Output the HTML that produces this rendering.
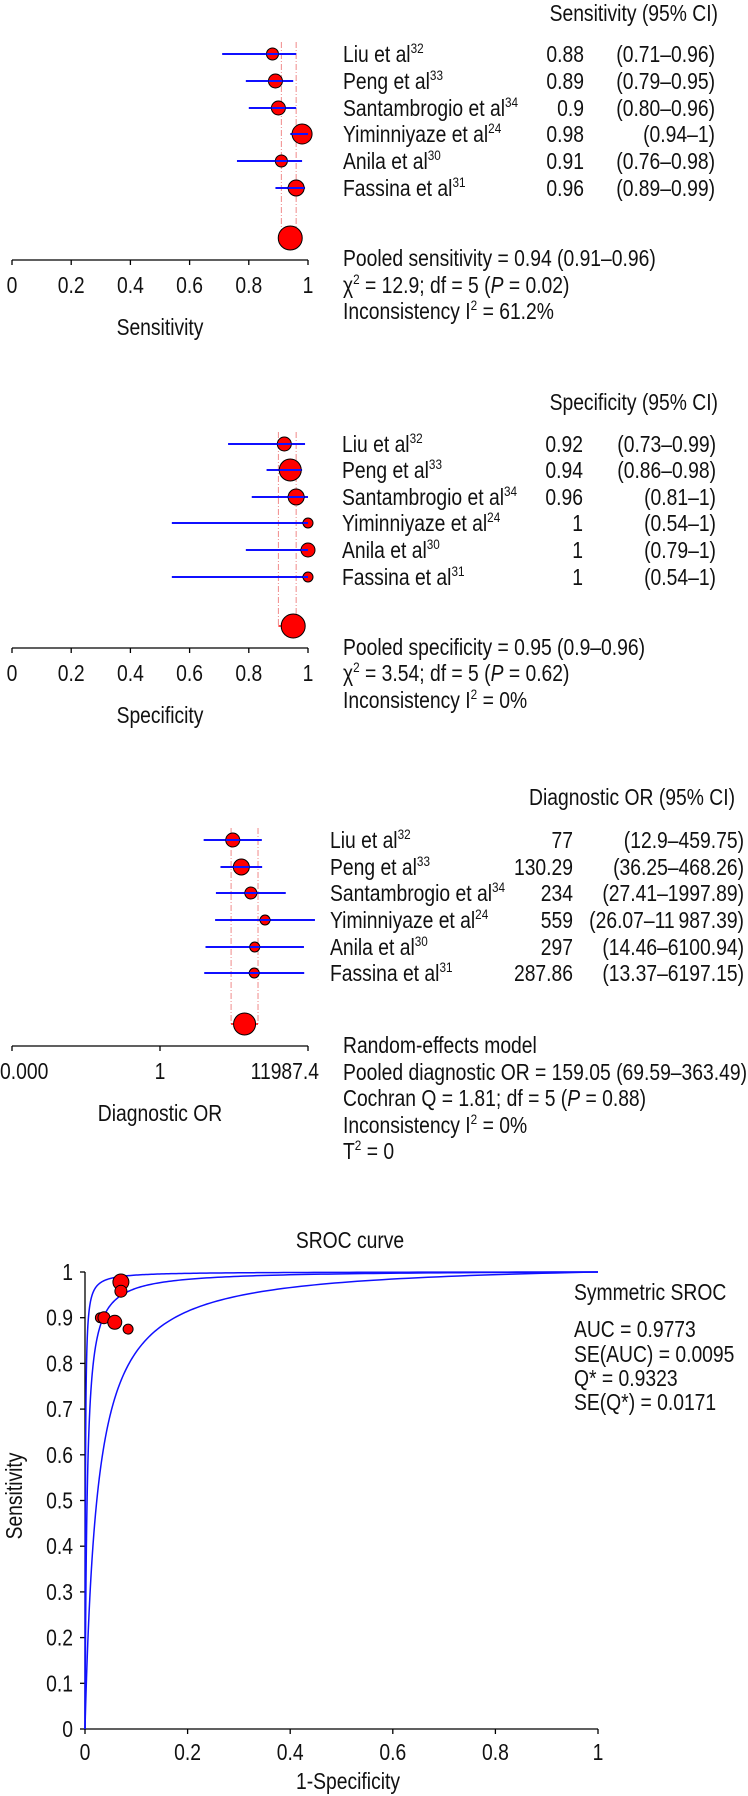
<!DOCTYPE html>
<html><head><meta charset="utf-8">
<style>
html,body{margin:0;padding:0;background:#fff;}
svg{display:block;}
text{font-family:"Liberation Sans Narrow","Liberation Sans",sans-serif;font-size:23px;fill:#111;}
</style></head>
<body>
<svg id="chart" width="748" height="1796" viewBox="0 0 748 1796" xmlns="http://www.w3.org/2000/svg"></svg>
<script>
// ---------- data ----------
const studies = ["Liu et al", "Peng et al", "Santambrogio et al", "Yiminniyaze et al", "Anila et al", "Fassina et al"];
const refs = ["32", "33", "34", "24", "30", "31"];

const sensValues = [0.88, 0.89, 0.9, 0.98, 0.91, 0.96];
const sensLow = [0.71, 0.79, 0.80, 0.94, 0.76, 0.89];
const sensHigh = [0.96, 0.95, 0.96, 1, 0.98, 0.99];
const sensValueLabels = ["0.88", "0.89", "0.9", "0.98", "0.91", "0.96"];
const sensCILabels = ["(0.71\u20130.96)", "(0.79\u20130.95)", "(0.80\u20130.96)", "(0.94\u20131)", "(0.76\u20130.98)", "(0.89\u20130.99)"];
const sensWeights = [6, 7, 7, 10, 6, 8];
const sensPooled = [0.94, 0.91, 0.96];

const specValues = [0.92, 0.94, 0.96, 1, 1, 1];
const specLow = [0.73, 0.86, 0.81, 0.54, 0.79, 0.54];
const specHigh = [0.99, 0.98, 1, 1, 1, 1];
const specValueLabels = ["0.92", "0.94", "0.96", "1", "1", "1"];
const specCILabels = ["(0.73\u20130.99)", "(0.86\u20130.98)", "(0.81\u20131)", "(0.54\u20131)", "(0.79\u20131)", "(0.54\u20131)"];
const specWeights = [7, 11, 8, 5, 7, 5];
const specPooled = [0.95, 0.9, 0.96];

const orValues = [77, 130.29, 234, 559, 297, 287.86];
const orLow = [12.9, 36.25, 27.41, 26.07, 14.46, 13.37];
const orHigh = [459.75, 468.26, 1997.89, 11987.39, 6100.94, 6197.15];
const orValueLabels = ["77", "130.29", "234", "559", "297", "287.86"];
const orCILabels = ["(12.9\u2013459.75)", "(36.25\u2013468.26)", "(27.41\u20131997.89)", "(26.07\u201311\u2009987.39)", "(14.46\u20136100.94)", "(13.37\u20136197.15)"];
const orWeights = [7, 8, 6, 5, 5, 5];
const orPooled = [159.05, 69.59, 363.49];
const orTickValues = [1/11987.4, 1, 11987.4];
const orTickLabels = ["0.000", "1", "11987.4"];

const linTicks = [0, 0.2, 0.4, 0.6, 0.8, 1];
const linTickLabels = ["0", "0.2", "0.4", "0.6", "0.8", "1"];

const srocFpr = [0.07, 0.07, 0.03, 0.037, 0.058, 0.084];
const srocSens = [0.978, 0.958, 0.90, 0.90, 0.89, 0.875];
const srocSizes = [8, 6, 5, 6, 7, 5];
const srocD = [7.2, 5.5, 3.75];
const srocYTicks = [0, 0.1, 0.2, 0.3, 0.4, 0.5, 0.6, 0.7, 0.8, 0.9, 1];
const srocXTicks = [0, 0.2, 0.4, 0.6, 0.8, 1];

// ---------- helpers ----------
const svg = document.getElementById('chart');
const NS = 'http://www.w3.org/2000/svg';
const SX = 0.84;
function mk(tag, attrs, parent) {
  const e = document.createElementNS(NS, tag);
  for (const k in attrs) e.setAttribute(k, attrs[k]);
  (parent || svg).appendChild(e);
  return e;
}
function txt(str, x, cy, anchor, parent) {
  const t = mk('text', {x: 0, y: 0, 'text-anchor': anchor || 'start', transform: 'translate(' + x + ',' + (cy + 8) + ') scale(' + SX + ',1)'}, parent);
  t.textContent = str;
  return t;
}
function sup(t, s) {
  const ts = document.createElementNS(NS, 'tspan');
  ts.setAttribute('dy', '-9');
  ts.setAttribute('font-size', '14');
  ts.textContent = s;
  t.appendChild(ts);
}

// ---------- forest plot ----------
function forest(cfg) {
  const g = mk('g', {});
  
  
  const xs = cfg.xs;
  const h = txt(cfg.header, cfg.headerX, cfg.headerY, 'end', g);
  
  
  [cfg.pooled[1], cfg.pooled[2]].forEach(v => {
    const l = mk('line', {x1: xs(v), x2: xs(v), y1: cfg.rowY[0] - 12, y2: cfg.pooledY, stroke: '#f08a8a', 'stroke-width': 1, 'stroke-dasharray': '6,2,1,2'}, g);
    
    
  });
  mk('line', {x1: xs(cfg.pooled[1]), x2: xs(cfg.pooled[2]), y1: cfg.pooledY, y2: cfg.pooledY, stroke: '#ff0000', 'stroke-width': 1.5}, g);
  for (let i = 0; i < studies.length; i++) {
    const y = cfg.rowY[i];
    const ci = mk('line', {x1: xs(cfg.low[i]), x2: xs(cfg.high[i]), y1: y, y2: y, stroke: '#1010ff', 'stroke-width': 2}, g);
    
    
    const c = mk('circle', {cx: xs(cfg.vals[i]), cy: y, r: cfg.weights[i], fill: '#ff0000', stroke: '#000', 'stroke-width': 1}, g);
    
    
    mk('line', {x1: xs(cfg.vals[i]) - cfg.weights[i], x2: Math.min(xs(cfg.high[i]), xs(cfg.vals[i]) + cfg.weights[i]), y1: y, y2: y, stroke: '#1010ff', 'stroke-width': 2}, g);
    const n = txt(studies[i], cfg.nameX, y, 'start', g);
    sup(n, refs[i]);
    
    
    const v = txt(cfg.valLabels[i], cfg.valX, y, 'end', g);
    
    
    const cl = txt(cfg.ciLabels[i], cfg.ciX, y, 'end', g);
    
    
  }
  const pc = mk('circle', {cx: xs(cfg.pooled[0]), cy: cfg.pooledY, r: cfg.pooledR, fill: '#ff0000', stroke: '#000', 'stroke-width': 1}, g);
  
  
  const last = cfg.ticks.length - 1;
  const ax = mk('line', {x1: 12, x2: 308, y1: cfg.axisY, y2: cfg.axisY, stroke: '#000', 'stroke-width': 1.3}, g);
  
  
  cfg.ticks.forEach((tv, k) => {
    let tx = xs(tv);
    if (cfg.edgeLabels && k === 0) tx = 12;
    if (cfg.edgeLabels && k === last) tx = 308;
    if (cfg.edgeLabels && k !== 0 && k !== last) tx = 160;
    mk('line', {x1: tx, x2: tx, y1: cfg.axisY, y2: cfg.axisY + 5, stroke: '#000', 'stroke-width': 1.3}, g);
    let lx = tx, anc = 'middle';
    if (cfg.edgeLabels && k === 0) { lx = 0; anc = 'start'; }
    if (cfg.edgeLabels && k === last) { lx = 319; anc = 'end'; }
    const tl = txt(cfg.tickLabels[k], lx, cfg.axisY + 25, anc, g);
    
    
  });
  const at = txt(cfg.axisTitle, 160, cfg.axisY + 67, 'middle', g);
  
  
  cfg.stats.forEach((s, k) => {
    const t = mk('text', {x: 0, y: 0, transform: 'translate(343,' + (cfg.statsY[k] + 8) + ') scale(' + SX + ',1)'}, g);
    t.innerHTML = s;
    
    
  });
}

const linX = v => 12 + 296 * v;
const logX = v => 162 + 37.5 * Math.log10(v);
const S2 = '<tspan dy="-9" font-size="14">2</tspan><tspan dy="9">';

forest({name: 'sensitivity-forest-plot', xs: linX, header: 'Sensitivity (95% CI)', headerX: 718, headerY: 13,
  rowY: [54, 81, 108, 134, 161, 188], pooledY: 238, pooledR: 12, axisY: 260,
  vals: sensValues, low: sensLow, high: sensHigh, weights: sensWeights, pooled: sensPooled,
  valLabels: sensValueLabels, ciLabels: sensCILabels, nameX: 343, valX: 584, ciX: 715,
  ticks: linTicks, tickLabels: linTickLabels, axisTitle: 'Sensitivity',
  stats: ['Pooled sensitivity = 0.94 (0.91\u20130.96)', '\u03c7' + S2 + ' = 12.9; df = 5 (</tspan><tspan font-style="italic">P</tspan> = 0.02)', 'Inconsistency I' + S2 + ' = 61.2%</tspan>'],
  statsY: [258, 285, 311]});

forest({name: 'specificity-forest-plot', xs: linX, header: 'Specificity (95% CI)', headerX: 718, headerY: 402,
  rowY: [444, 470, 497, 523, 550, 577], pooledY: 626, pooledR: 12, axisY: 648,
  vals: specValues, low: specLow, high: specHigh, weights: specWeights, pooled: specPooled,
  valLabels: specValueLabels, ciLabels: specCILabels, nameX: 342, valX: 583, ciX: 716,
  ticks: linTicks, tickLabels: linTickLabels, axisTitle: 'Specificity',
  stats: ['Pooled specificity = 0.95 (0.9\u20130.96)', '\u03c7' + S2 + ' = 3.54; df = 5 (</tspan><tspan font-style="italic">P</tspan> = 0.62)', 'Inconsistency I' + S2 + ' = 0%</tspan>'],
  statsY: [647, 673, 700]});

forest({name: 'diagnostic-or-forest-plot', xs: logX, header: 'Diagnostic OR (95% CI)', headerX: 735, headerY: 797,
  rowY: [840, 867, 893, 920, 947, 973], pooledY: 1024, pooledR: 11, axisY: 1046, edgeLabels: true,
  vals: orValues, low: orLow, high: orHigh, weights: orWeights, pooled: orPooled,
  valLabels: orValueLabels, ciLabels: orCILabels, nameX: 330, valX: 573, ciX: 744,
  ticks: orTickValues, tickLabels: orTickLabels, axisTitle: 'Diagnostic OR',
  stats: ['Random-effects model', 'Pooled diagnostic OR = 159.05 (69.59\u2013363.49)', 'Cochran Q = 1.81; df = 5 (<tspan font-style="italic">P</tspan> = 0.88)', 'Inconsistency I' + S2 + ' = 0%</tspan>', 'T' + S2 + ' = 0</tspan>'],
  statsY: [1045, 1072, 1098, 1125, 1151]});

// ---------- SROC ----------
const sg = mk('g', {});


const sx = v => 85 + 513 * v;
const sy = v => 1729 - 457 * v;
const title = txt('SROC curve', 350, 1240, 'middle', sg);


const yAx = mk('line', {x1: sx(0), x2: sx(0), y1: sy(0), y2: sy(1), stroke: '#000', 'stroke-width': 1.3}, sg);


const xAx = mk('line', {x1: sx(0), x2: sx(1), y1: sy(0), y2: sy(0), stroke: '#000', 'stroke-width': 1.3}, sg);


srocYTicks.forEach(v => {
  mk('line', {x1: sx(0) - 5, x2: sx(0), y1: sy(v), y2: sy(v), stroke: '#000', 'stroke-width': 1.3}, sg);
  const t = txt(String(v), 73, sy(v), 'end', sg);
  
  
});
srocXTicks.forEach(v => {
  mk('line', {x1: sx(v), x2: sx(v), y1: sy(0), y2: sy(0) + 5, stroke: '#000', 'stroke-width': 1.3}, sg);
  const t = txt(String(v), sx(v), 1752, 'middle', sg);
  
  
});
const xt = txt('1-Specificity', 348, 1781, 'middle', sg);


const yt = mk('text', {x: 0, y: 0, 'text-anchor': 'middle', transform: 'translate(22,1496) rotate(-90) scale(' + SX + ',1)'}, sg);
yt.textContent = 'Sensitivity';


srocD.forEach(D => {
  let pts = [];
  for (let k = 0; k <= 400; k++) {
    const f = Math.pow(10, -5 + 5 * k / 400);
    const lf = Math.log(f / (1 - f + 1e-12));
    const s = f >= 1 ? 1 : 1 / (1 + Math.exp(-(D + lf)));
    pts.push(sx(f).toFixed(2) + ',' + sy(s).toFixed(2));
  }
  pts.unshift(sx(0) + ',' + sy(0));
  const p = mk('polyline', {points: pts.join(' '), fill: 'none', stroke: '#1010ff', 'stroke-width': 1.5}, sg);
  
  
});
for (let i = 0; i < srocFpr.length; i++) {
  const c = mk('circle', {cx: sx(srocFpr[i]), cy: sy(srocSens[i]), r: srocSizes[i], fill: '#ff0000', stroke: '#000', 'stroke-width': 1}, sg);
  
  
}
const srocText = ['Symmetric SROC', 'AUC = 0.9773', 'SE(AUC) = 0.0095', 'Q* = 0.9323', 'SE(Q*) = 0.0171'];
const srocTextY = [1292, 1329, 1354, 1378, 1402];
srocText.forEach((s, k) => {
  const t = txt(s, 574, srocTextY[k], 'start', sg);
  
  
});
</script>
</body></html>
